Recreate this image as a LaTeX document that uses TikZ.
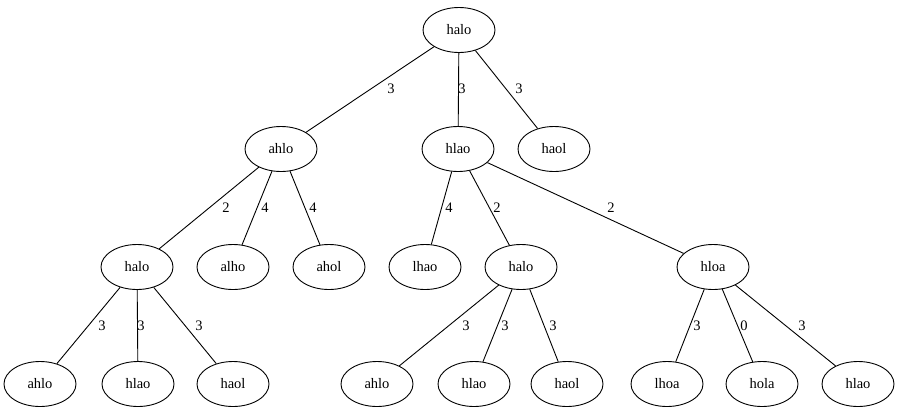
\documentclass[tikz,border=0pt]{standalone}
\usepackage{fontspec}
\setmainfont{Liberation Serif}
\usetikzlibrary{shapes.geometric}
\begin{document}
\begin{tikzpicture}[x=1pt,y=-1pt,
  state/.style={draw,ellipse,line width=0.9pt,minimum width=72pt,minimum height=45pt,inner sep=0pt,font=\fontsize{14.5}{16}\selectfont},
  edge/.style={draw,line width=0.9pt},
  wt/.style={font=\fontsize{14.5}{16}\selectfont,inner sep=0pt}]
\useasboundingbox (0,0) rectangle (899,413);
% level 0
\node[state] (r) at (459,30) {halo};
% level 1
\node[state] (a) at (281,149) {ahlo};
\node[state] (b) at (458,149) {hlao};
\node[state] (c) at (554,149) {haol};
% level 2
\node[state] (a1) at (137,267) {halo};
\node[state] (a2) at (233,267) {alho};
\node[state] (a3) at (329,267) {ahol};
\node[state] (b1) at (425,267) {lhao};
\node[state] (b2) at (521,267) {halo};
\node[state] (b3) at (713,267) {hloa};
% level 3
\node[state] (a11) at (40,384) {ahlo};
\node[state] (a12) at (138,384) {hlao};
\node[state] (a13) at (233,384) {haol};
\node[state] (b21) at (377,384) {ahlo};
\node[state] (b22) at (474,384) {hlao};
\node[state] (b23) at (567,384) {haol};
\node[state] (b31) at (667,384) {lhoa};
\node[state] (b32) at (762,384) {hola};
\node[state] (b33) at (858,384) {hlao};
% edges
\draw[edge] (r) -- (a);
\draw[edge] (r) -- (b);
\draw[edge] (r) -- (c);
\draw[edge] (a) -- (a1);
\draw[edge] (a) -- (a2);
\draw[edge] (a) -- (a3);
\draw[edge] (b) -- (b1);
\draw[edge] (b) -- (b2);
\draw[edge] (b) -- (b3);
\draw[edge] (a1) -- (a11);
\draw[edge] (a1) -- (a12);
\draw[edge] (a1) -- (a13);
\draw[edge] (b2) -- (b21);
\draw[edge] (b2) -- (b22);
\draw[edge] (b2) -- (b23);
\draw[edge] (b3) -- (b31);
\draw[edge] (b3) -- (b32);
\draw[edge] (b3) -- (b33);
% edge weights
\node[wt] (w1) at (391,89) {3};
\node[wt] (w2) at (462,89) {3};
\node[wt] (w3) at (519,89) {3};
\node[wt] (w4) at (226,208) {2};
\node[wt] (w5) at (265,208) {4};
\node[wt] (w6) at (313,208) {4};
\node[wt] (w7) at (449,208) {4};
\node[wt] (w8) at (497,208) {2};
\node[wt] (w9) at (611,208) {2};
\node[wt] (w10) at (102,326) {3};
\node[wt] (w11) at (141,326) {3};
\node[wt] (w12) at (199,326) {3};
\node[wt] (w13) at (466,326) {3};
\node[wt] (w14) at (505,326) {3};
\node[wt] (w15) at (553,326) {3};
\node[wt] (w16) at (697,326) {3};
\node[wt] (w17) at (744,326) {0};
\node[wt] (w18) at (802,326) {3};
\end{tikzpicture}
\end{document}
